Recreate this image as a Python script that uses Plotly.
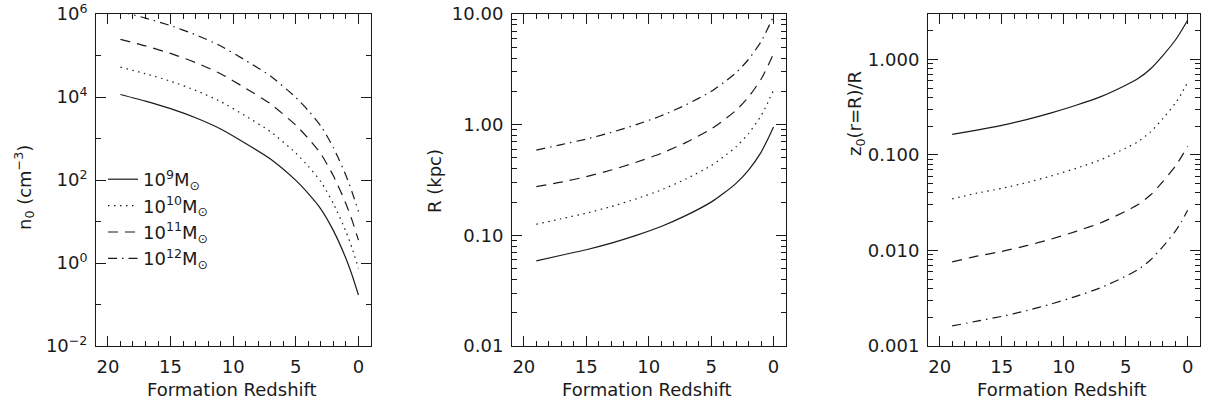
import plotly.graph_objects as go

# Formation redshift sample points (shared by all curves)
redshift = [19, 17, 15, 13, 11, 9, 7, 5, 4, 3, 2, 1, 0.5, 0]

masses = ["10<sup>9</sup>M<sub>⊙</sub>", "10<sup>10</sup>M<sub>⊙</sub>",
          "10<sup>11</sup>M<sub>⊙</sub>", "10<sup>12</sup>M<sub>⊙</sub>"]

# Panel 1: log10 n0 (cm^-3)
log_n0_1e9  = [4.06, 3.90, 3.72, 3.50, 3.23, 2.88, 2.50, 1.99, 1.67, 1.30, 0.78, 0.11, -0.30, -0.77]
log_n0_1e10 = [4.72, 4.56, 4.38, 4.16, 3.89, 3.54, 3.16, 2.65, 2.33, 1.96, 1.43, 0.76, 0.35, -0.13]
log_n0_1e11 = [5.39, 5.23, 5.05, 4.83, 4.56, 4.21, 3.83, 3.32, 3.00, 2.63, 2.10, 1.43, 1.02, 0.55]
log_n0_1e12 = [6.06, 5.90, 5.72, 5.50, 5.23, 4.88, 4.50, 3.99, 3.67, 3.30, 2.78, 2.11, 1.70, 1.24]

# Panel 2: log10 R (kpc)
log_R_1e9  = [-1.23, -1.18, -1.13, -1.07, -1.00, -0.92, -0.82, -0.70, -0.62, -0.53, -0.41, -0.25, -0.14, -0.02]
log_R_1e10 = [-0.90, -0.85, -0.80, -0.74, -0.67, -0.59, -0.49, -0.37, -0.29, -0.20, -0.08, 0.08, 0.19, 0.31]
log_R_1e11 = [-0.56, -0.52, -0.47, -0.41, -0.34, -0.26, -0.16, -0.04, 0.04, 0.13, 0.25, 0.41, 0.52, 0.64]
log_R_1e12 = [-0.23, -0.18, -0.13, -0.07, 0.00, 0.08, 0.18, 0.30, 0.38, 0.47, 0.59, 0.75, 0.86, 0.98]

# Panel 3: log10 z0(r=R)/R
log_z_1e9  = [-0.785, -0.74, -0.69, -0.63, -0.56, -0.48, -0.39, -0.27, -0.20, -0.10, 0.04, 0.20, 0.30, 0.41]
log_z_1e10 = [-1.46, -1.40, -1.35, -1.29, -1.22, -1.14, -1.05, -0.93, -0.86, -0.76, -0.62, -0.46, -0.36, -0.24]
log_z_1e11 = [-2.12, -2.06, -2.01, -1.95, -1.88, -1.80, -1.71, -1.59, -1.52, -1.42, -1.28, -1.12, -1.02, -0.91]
log_z_1e12 = [-2.79, -2.74, -2.69, -2.63, -2.56, -2.48, -2.39, -2.27, -2.20, -2.10, -1.96, -1.80, -1.70, -1.58]

x_ticks = [0, 5, 10, 15, 20]
y1_ticks = [1e-2, 1e0, 1e2, 1e4, 1e6]
y1_text = ["10<sup>−2</sup>", "10<sup>0</sup>", "10<sup>2</sup>", "10<sup>4</sup>", "10<sup>6</sup>"]
y2_ticks = [0.01, 0.1, 1, 10]
y2_text = ["0.01", "0.10", "1.00", "10.00"]
y3_ticks = [0.001, 0.01, 0.1, 1]
y3_text = ["0.001", "0.010", "0.100", "1.000"]

dashes = ["solid", "1.5px,4.5px", "10px,7px", "9px,5px,1.5px,5px"]
panels = [
    [log_n0_1e9, log_n0_1e10, log_n0_1e11, log_n0_1e12],
    [log_R_1e9, log_R_1e10, log_R_1e11, log_R_1e12],
    [log_z_1e9, log_z_1e10, log_z_1e11, log_z_1e12],
]

W, H = 1205, 406
FONT = "DejaVu Sans"
FS = 18
INK = "#1a1a1a"
fig = go.Figure()

for p, series in enumerate(panels):
    xa = "x" if p == 0 else f"x{p+1}"
    ya = "y" if p == 0 else f"y{p+1}"
    for k, s in enumerate(series):
        fig.add_trace(go.Scatter(
            x=redshift, y=[10 ** v for v in s], mode="lines",
            line=dict(color=INK, width=1.2, dash=dashes[k], shape="spline", smoothing=0.6),
            name=masses[k], showlegend=(p == 0),
            xaxis=xa, yaxis=ya))

xdom = [(96, 371), (512, 786), (928, 1200)]
ydom = [(H - 346) / H, (H - 14) / H]

common_x = dict(range=[20.95, -1.0], showline=True, linecolor=INK, linewidth=1,
                mirror="allticks", ticks="inside", ticklen=10, tickcolor=INK,
                tickvals=x_ticks, showgrid=False, zeroline=False, automargin=False,
                tickfont=dict(family=FONT, size=FS, color=INK),
                minor=dict(dtick=1, ticks="inside", ticklen=5, tickcolor=INK),
                ticklabelstandoff=4)

ycfg = [
    dict(range=[-2, 6], tickvals=y1_ticks, ticktext=y1_text,
         minor=dict(tickvals=[1e-1, 1e1, 1e3, 1e5], ticks="inside", ticklen=5, tickcolor=INK)),
    dict(range=[-2, 1], tickvals=y2_ticks, ticktext=y2_text,
         minor=dict(tickvals=[m * 10 ** d for d in (-2, -1, 0) for m in range(2, 10)],
                    ticks="inside", ticklen=5, tickcolor=INK)),
    dict(range=[-3, 0.475], tickvals=y3_ticks, ticktext=y3_text,
         minor=dict(tickvals=[m * 10 ** d for d in (-3, -2, -1, 0) for m in range(2, 10) if m * 10 ** d < 3],
                    ticks="inside", ticklen=5, tickcolor=INK)),
]

for p in range(3):
    sx = "xaxis" if p == 0 else f"xaxis{p+1}"
    sy = "yaxis" if p == 0 else f"yaxis{p+1}"
    ya = "y" if p == 0 else f"y{p+1}"
    xa = "x" if p == 0 else f"x{p+1}"
    fig.layout[sx] = dict(common_x, domain=[xdom[p][0] / W, xdom[p][1] / W], anchor=ya)
    fig.layout[sy] = dict(type="log", domain=ydom, anchor=xa, showline=True, linecolor=INK,
                          linewidth=1, mirror="allticks", ticks="inside", ticklen=10,
                          tickcolor=INK, showgrid=False, zeroline=False, automargin=False,
                          tickfont=dict(family=FONT, size=FS, color=INK),
                          ticklabelstandoff=4, **ycfg[p])

ann = []
for p in range(3):
    cx = (xdom[p][0] + xdom[p][1]) / 2 / W - 2 / W
    ann.append(dict(text="Formation Redshift", x=cx, y=(H - 389) / H, xref="paper", yref="paper",
                    showarrow=False, xanchor="center", yanchor="middle",
                    font=dict(family=FONT, size=FS, color=INK)))
ytitles = [("n<sub>0</sub> (cm<sup>−3</sup>)", 24, 188),
           ("R (kpc)", 435, 181),
           ("z<sub>0</sub>(r=R)/R", 856, 114)]
for t, px, py in ytitles:
    ann.append(dict(text=t, x=px / W, y=(H - py) / H, xref="paper", yref="paper",
                    showarrow=False, xanchor="center", yanchor="middle", textangle=-90,
                    font=dict(family=FONT, size=FS, color=INK)))

fig.update_layout(
    width=W, height=H, margin=dict(l=0, r=0, t=0, b=0, autoexpand=False),
    paper_bgcolor="white", plot_bgcolor="white",
    annotations=ann,
    legend=dict(x=103 / W, y=(H - 161) / H, xanchor="left", yanchor="top",
                bgcolor="rgba(0,0,0,0)", font=dict(family=FONT, size=FS, color=INK),
                tracegroupgap=0),
)

fig.write_html("out.html", config={"displayModeBar": False},
               post_script="document.body.style.margin='0';document.body.style.overflow='hidden';")
